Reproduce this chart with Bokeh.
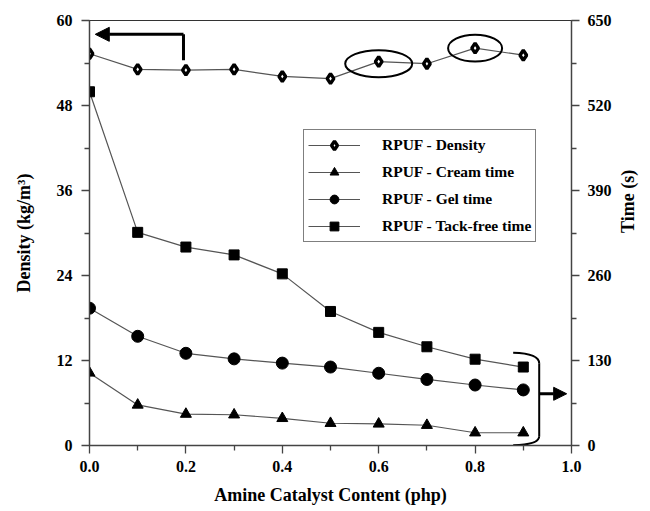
import math
from bokeh.plotting import figure
from bokeh.models import (Range1d, LinearAxis, FixedTicker, Legend, LegendItem, Arrow,
                          NormalHead, CustomJSTickFormatter)
from bokeh.embed import file_html
from bokeh.resources import INLINE

# ---- data ----
amine = [0.0, 0.1, 0.2, 0.3, 0.4, 0.5, 0.6, 0.7, 0.8, 0.9]
density = [55.3, 53.1, 53.0, 53.1, 52.1, 51.8, 54.2, 53.9, 56.1, 55.1]
cream_time = [111, 62, 48, 47, 41.5, 34, 33, 31, 19.5, 19.5]
gel_time = [210, 167, 141, 132.5, 126, 120, 110.5, 101, 92.5, 85]
tack_free_time = [541, 326, 303.5, 291.5, 262.5, 205, 173, 151, 132, 120]

x_ticks = [0.0, 0.2, 0.4, 0.6, 0.8, 1.0]
x_minor = [0.1, 0.3, 0.5, 0.7, 0.9]
left_ticks = [0, 12, 24, 36, 48, 60]
left_minor = [6, 18, 30, 42, 54]
right_ticks = [0, 130, 260, 390, 520, 650]
right_minor = [65, 195, 325, 455, 585]

labels = ["RPUF - Density", "RPUF - Cream time", "RPUF - Gel time", "RPUF - Tack-free time"]
x_title = "Amine Catalyst Content (php)"
left_title = "Density (kg/m³)"
right_title = "Time (s)"

# annotation geometry (data units of left axis)
left_arrow_x = [0.195, 0.195]
left_arrow_y = [54.4, 58.05]
left_arrow_end_x = 0.012
circled_x = [0.6, 0.8]
circled_y = [53.9, 56.1]
circled_w = [67, 54]
circled_h = [27, 27]

FONT = "Liberation Serif"

p = figure(width=650, height=511, output_backend="svg", toolbar_location=None,
           x_range=Range1d(0, 1), y_range=Range1d(0, 60),
           min_border_left=89, min_border_right=79, min_border_top=20, min_border_bottom=66)
p.extra_y_ranges = {"time": Range1d(0, 650)}
p.grid.visible = False
p.outline_line_color = "#333333"
p.outline_line_width = 1.2
p.background_fill_color = "white"
p.border_fill_color = "white"

raxis = LinearAxis(y_range_name="time")
p.add_layout(raxis, "right")

def style_axis(ax):
    ax.axis_line_color = "#444444"
    ax.axis_line_width = 1.3
    ax.major_tick_line_color = "#444444"
    ax.minor_tick_line_color = "#444444"
    ax.major_tick_line_width = 1.3
    ax.minor_tick_line_width = 1.3
    ax.major_tick_in = 0
    ax.major_tick_out = 8
    ax.minor_tick_in = 0
    ax.minor_tick_out = 5
    ax.major_label_text_font = FONT
    ax.major_label_text_font_style = "bold"
    ax.major_label_text_font_size = "16px"
    ax.major_label_text_color = "black"
    ax.axis_label_text_font = FONT
    ax.axis_label_text_font_style = "bold"
    ax.axis_label_text_font_size = "18px"
    ax.axis_label_text_color = "black"

xa = p.xaxis[0]
ya = p.yaxis[0]
for ax in (xa, ya, raxis):
    style_axis(ax)

xa.ticker = FixedTicker(ticks=x_ticks, minor_ticks=x_minor)
xa.formatter = CustomJSTickFormatter(code="return tick.toFixed(1);")
xa.axis_label = x_title
xa.major_label_standoff = 7
xa.axis_label_standoff = 10

ya.ticker = FixedTicker(ticks=left_ticks, minor_ticks=left_minor)
ya.axis_label = left_title
ya.major_label_standoff = 9
ya.axis_label_standoff = 20

raxis.ticker = FixedTicker(ticks=right_ticks, minor_ticks=right_minor)
raxis.major_label_standoff = 8
raxis.axis_label = right_title
raxis.axis_label_standoff = 13
if "axis_label_orientation" in raxis.properties():
    raxis.axis_label_orientation = math.pi / 2

LINE = "#555555"

l1 = p.line(amine, density, line_color=LINE, line_width=1.2)
s1 = p.scatter(amine, density, marker="diamond", size=10, fill_color="white",
               line_color="black", line_width=3.4)
l2 = p.line(amine, cream_time, y_range_name="time", line_color=LINE, line_width=1.2)
s2 = p.scatter(amine, cream_time, y_range_name="time", marker="triangle", size=11,
               fill_color="black", line_color="black")
l3 = p.line(amine, gel_time, y_range_name="time", line_color=LINE, line_width=1.2)
s3 = p.scatter(amine, gel_time, y_range_name="time", marker="circle", size=12,
               fill_color="black", line_color="black")
l4 = p.line(amine, tack_free_time, y_range_name="time", line_color=LINE, line_width=1.2)
s4 = p.scatter(amine, tack_free_time, y_range_name="time", marker="square", size=10,
               fill_color="black", line_color="black")

legend = Legend(items=[LegendItem(label=labels[0], renderers=[l1, s1]),
                       LegendItem(label=labels[1], renderers=[l2, s2]),
                       LegendItem(label=labels[2], renderers=[l3, s3]),
                       LegendItem(label=labels[3], renderers=[l4, s4])],
                location=(214, 203))
legend.label_text_font = FONT
legend.label_text_font_style = "bold"
legend.label_text_font_size = "15.5px"
legend.label_text_color = "black"
legend.glyph_width = 52
legend.glyph_height = 22
legend.label_height = 22
legend.spacing = 5
legend.padding = 4
legend.margin = 0
legend.label_standoff = 22
legend.border_line_color = "black"
legend.border_line_width = 1.5
legend.background_fill_alpha = 1
p.add_layout(legend, "center")

# top-left arrow pointing to the left axis
p.line(left_arrow_x, left_arrow_y, line_color="black", line_width=3)
p.add_layout(Arrow(x_start=left_arrow_x[1], y_start=left_arrow_y[1],
                   x_end=left_arrow_end_x, y_end=left_arrow_y[1],
                   line_width=3, line_color="black",
                   end=NormalHead(size=14, fill_color="black", line_color="black")))

# circled density points
p.ellipse(x=circled_x, y=circled_y, width=circled_w, height=circled_h,
          width_units="screen", height_units="screen",
          fill_alpha=0, line_color="black", line_width=2)

# bracket on the right for the time series
p.quadratic(x0=[0.879], y0=[13.1], x1=[0.933], y1=[11.6], cx=[0.933], cy=[13.0],
            line_color="black", line_width=2)
p.segment(x0=[0.933], y0=[11.6], x1=[0.933], y1=[1.3], line_color="black", line_width=2)
p.quadratic(x0=[0.933], y0=[1.3], x1=[0.879], y1=[0.05], cx=[0.933], cy=[0.1],
            line_color="black", line_width=2)
p.add_layout(Arrow(x_start=0.933, y_start=7.3, x_end=0.99, y_end=7.3,
                   line_width=3, line_color="black",
                   end=NormalHead(size=13, fill_color="black", line_color="black")))

open("out.html", "w").write(file_html(p, INLINE))
